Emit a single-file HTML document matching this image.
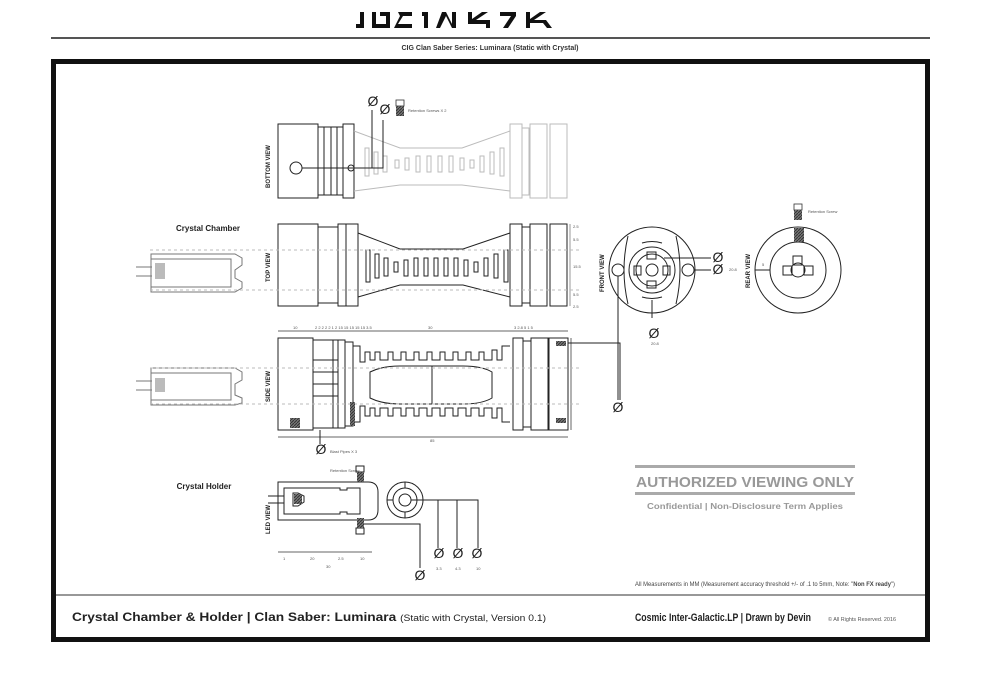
<!DOCTYPE html>
<html><head><meta charset="utf-8"><style>
html,body{margin:0;padding:0;background:#fff;width:986px;height:696px;overflow:hidden}
svg{display:block}
text{font-family:"Liberation Sans",sans-serif}
</style></head><body>
<svg width="986" height="696" viewBox="0 0 986 696" xmlns="http://www.w3.org/2000/svg">
<defs>
<pattern id="h" width="3" height="3" patternUnits="userSpaceOnUse"><rect width="3" height="3" fill="#777"/><path d="M0 3L3 0" stroke="#333" stroke-width="1"/></pattern>
</defs>
<g fill="#111">
<path d="M360 12h4v16h-8v-4h4z"/>
<path d="M372 12h4v12h10v-12h4v16h-18z M380 12h6v4h-6z"/>
<path d="M398 12h14v4h-9l-5 8h14v4h-18l6-12z" />
<path d="M422 12h6v16h-4v-12h-2z"/>
<path d="M436 28l6-16h4l6 12v-12h4v16h-4l-6-12-6 12z"/>
<path d="M468 12h4v7l10-7h6l-12 8h14v8h-4v-4h-18z"/>
<path d="M500 12h16v4l-8 12h-5l8-12h-11z"/>
<path d="M526 12h4v7l10-7h6l-12 8h12l6 8h-5l-4-5h-13v5h-4z"/>
</g>
<rect x="51" y="37" width="879" height="2" fill="#555"/>
<text x="490" y="50" font-size="7" text-anchor="middle" font-weight="bold" fill="#333">CIG Clan Saber Series: Luminara (Static with Crystal)</text>
<rect x="53.5" y="61.5" width="874" height="578" fill="none" stroke="#111" stroke-width="5"/>
<line x1="56" y1="595" x2="925" y2="595" stroke="#777" stroke-width="1.5"/>

<g fill="none" stroke="#222" stroke-width="1">
<rect x="278" y="124" width="40" height="74"/>
<rect x="318" y="127" width="6" height="68"/><rect x="324" y="127" width="7" height="68"/><rect x="331" y="127" width="6" height="68"/><rect x="337" y="127" width="6" height="68"/><rect x="343" y="124" width="11" height="74"/>
<circle cx="296" cy="168" r="6"/><circle cx="351" cy="168" r="3"/>
<g stroke="#bbb"><path d="M354 131L400 148H462L510 131M354 191L400 185H462L510 191"/>
<rect x="510" y="124" width="12" height="74"/><rect x="522" y="128" width="7" height="67"/><rect x="530" y="124" width="17" height="74"/><rect x="550" y="124" width="17" height="74"/>
<rect x="365" y="148" width="4" height="28"/><rect x="374" y="152" width="4" height="22"/><rect x="383" y="156" width="4" height="16"/><rect x="395" y="160" width="4" height="8"/><rect x="405" y="158" width="4" height="12"/><rect x="416" y="156" width="4" height="16"/><rect x="427" y="156" width="4" height="16"/><rect x="438" y="156" width="4" height="16"/><rect x="449" y="156" width="4" height="16"/><rect x="460" y="158" width="4" height="12"/><rect x="470" y="160" width="4" height="8"/><rect x="480" y="156" width="4" height="16"/><rect x="490" y="152" width="4" height="22"/><rect x="500" y="148" width="4" height="28"/></g>
<path d="M302 168H372V110M357 168H383V120"/>
<rect x="278" y="224" width="40" height="82"/>
<rect x="318" y="227" width="20" height="76"/><rect x="338" y="224" width="8" height="82"/><rect x="346" y="224" width="12" height="82"/>
<path d="M358 233L400 249H463L510 233M358 297L400 285H463L510 297"/>
<rect x="510" y="224" width="12" height="82"/><rect x="522" y="227" width="8" height="76"/><rect x="530" y="224" width="17" height="82"/><rect x="550" y="224" width="17" height="82"/>
<rect x="366" y="250" width="4" height="32"/><rect x="375" y="254" width="4" height="24"/><rect x="384" y="258" width="4" height="18"/><rect x="394" y="262" width="4" height="10"/><rect x="404" y="260" width="4" height="16"/><rect x="414" y="258" width="4" height="18"/><rect x="424" y="258" width="4" height="18"/><rect x="434" y="258" width="4" height="18"/><rect x="444" y="258" width="4" height="18"/><rect x="454" y="258" width="4" height="18"/><rect x="464" y="260" width="4" height="16"/><rect x="474" y="262" width="4" height="10"/><rect x="484" y="258" width="4" height="18"/><rect x="494" y="254" width="4" height="24"/><rect x="504" y="250" width="4" height="32"/>
<path d="M570 224V306" stroke="#999"/>
<g stroke="#777"><path d="M151 254H235L242 258V265L235 270V278L242 282V288L235 292H151ZM151 259H231V287H151"/><path d="M136 267H152M136 276H152"/></g>
<rect x="278" y="338" width="35" height="92"/>
<rect x="313" y="340" width="20" height="88"/><rect x="333" y="340" width="5" height="88"/><rect x="338" y="340" width="7" height="88"/><rect x="345" y="342" width="8" height="84"/>
<path d="M313 346V426M313 360H338M313 372H338M313 384H338M313 396H338"/>
<path d="M353 346H360V362H365V352H370V360H375V352H380V360H388V352H393V360H401V352H406V360H414V352H419V360H427V352H432V360H440V352H445V360H453V352H458V360H466V352H471V360H479V352H484V360H492V350H497V360H502V346H510"/>
<path d="M353 422H360V406H365V416H370V408H375V416H380V408H388V416H393V408H401V416H406V408H414V416H419V408H427V416H432V408H440V416H445V408H453V416H458V408H466V416H471V408H479V416H484V408H492V418H497V408H502V422H510"/>
<path d="M370 372Q382 366 400 366H463Q482 366 492 372V398Q482 404 463 404H400Q382 404 370 398Z"/>
<path d="M432 366V404"/>
<rect x="513" y="338" width="10" height="92"/><rect x="523" y="341" width="8" height="86"/><rect x="531" y="338" width="17" height="92"/><rect x="549" y="338" width="19" height="92"/>
<path d="M278 331H568M278 437H568M571 338V430" stroke="#666"/>
<path d="M320 430V444"/>
<g stroke="#777"><path d="M151 368H235L242 372V380L235 384V392L235 395L242 398V403L235 405H151ZM151 373H231V400H151"/><path d="M136 381H152M136 390H152"/></g>
<g stroke="#bbb" stroke-dasharray="3 3"><path d="M150 250H580M150 290H580M150 368H580M150 404H580"/></g>
<path d="M568 343H620V400"/>
<circle cx="652" cy="270" r="43"/>
<path d="M628 236Q620 270 628 304M676 236Q684 270 676 304"/>
<circle cx="652" cy="270" r="23"/><circle cx="652" cy="270" r="16"/><circle cx="652" cy="270" r="6"/>
<rect x="647" y="252" width="9" height="7"/><rect x="634" y="266" width="7" height="9"/><rect x="663" y="266" width="7" height="9"/><rect x="647" y="281" width="9" height="7"/>
<path d="M642 243Q652 240 662 243M642 297Q652 300 662 297"/>
<circle cx="618" cy="270" r="6"/><circle cx="688" cy="270" r="6"/>
<path d="M664 258H711M694 270H711M652 300V318M618 276V400"/>
<circle cx="798" cy="270" r="43"/><circle cx="798" cy="270" r="28"/><circle cx="798" cy="270" r="7"/>
<rect x="793" y="256" width="9" height="9"/><rect x="783" y="266" width="9" height="9"/><rect x="804" y="266" width="9" height="9"/>
<path d="M755 270H770"/>
<path d="M278 482H368Q378 482 378 492V510Q378 520 368 520H278Z"/>
<path d="M284 488H340V490H347V488H360V514H347V512H340V514H284Z"/>
<path d="M293 493H298L304 496V502L298 506H293Z"/>
<path d="M268 496H284M268 503H284"/>
<circle cx="405" cy="500" r="18"/><circle cx="405" cy="500" r="12"/><circle cx="405" cy="500" r="6"/>
<path d="M405 482V488M405 512V518M387 500H393"/>
<path d="M411 500H478V548M438 500V548M457 500V548M364 524H420V568"/>
<rect x="356" y="466" width="8" height="6"/><rect x="356" y="528" width="8" height="6"/>
<path d="M278 552H372" stroke="#666"/>
</g>
<rect x="396" y="100" width="8" height="6" fill="#fff" stroke="#333" stroke-width="0.8"/><rect x="396" y="106" width="8" height="10" fill="url(#h)"/>
<rect x="794" y="204" width="8" height="6" fill="#fff" stroke="#333" stroke-width="0.8"/><rect x="794" y="210" width="8" height="10" fill="url(#h)"/>
<rect x="794" y="228" width="10" height="14" fill="url(#h)"/>
<rect x="290" y="418" width="10" height="10" fill="url(#h)"/>
<rect x="350" y="402" width="5" height="24" fill="url(#h)"/>
<rect x="556" y="341" width="10" height="5" fill="url(#h)"/><rect x="556" y="418" width="10" height="5" fill="url(#h)"/>
<rect x="357" y="472" width="7" height="10" fill="url(#h)"/><rect x="357" y="518" width="7" height="10" fill="url(#h)"/>
<rect x="294" y="494" width="8" height="10" fill="url(#h)"/>
<rect x="155" y="263" width="10" height="16" fill="#bbb"/><rect x="155" y="378" width="10" height="14" fill="#bbb"/>
<g font-size="14" fill="#222" text-anchor="middle">
<text x="373" y="106">Ø</text><text x="385" y="114">Ø</text>
<text x="718" y="262">Ø</text><text x="718" y="274">Ø</text>
<text x="654" y="338">Ø</text><text x="618" y="412">Ø</text>
<text x="321" y="454">Ø</text>
<text x="420" y="580">Ø</text><text x="439" y="558">Ø</text><text x="458" y="558">Ø</text><text x="477" y="558">Ø</text>
</g>
<g font-size="4" fill="#555">
<text x="408" y="112">Retention Screws X 2</text>
<text x="808" y="213">Retention Screw</text>
<text x="330" y="453">Blast Pipes X 3</text>
<text x="330" y="472">Retention Screw</text>
<text x="729" y="271">20.8</text><text x="651" y="345">20.8</text>
<text x="430" y="442">85</text><text x="428" y="329">30</text>
<text x="436" y="570">3.3</text><text x="455" y="570">4.3</text><text x="476" y="570">10</text>
<text x="283" y="560">1</text><text x="310" y="560">20</text><text x="338" y="560">2.5</text><text x="360" y="560">10</text><text x="326" y="568">30</text>
<text x="573" y="228">2.5</text><text x="573" y="241">5.5</text><text x="573" y="268">15.5</text><text x="573" y="296">5.5</text><text x="573" y="308">2.5</text>
<text x="293" y="329">10</text><text x="315" y="329">2 2 2 2 2 1 2 15 15 15 15 15 3.5</text><text x="514" y="329">3 2.8 5 1 5</text>
<text x="762" y="266">5</text>
</g>
<g font-size="6" font-weight="bold" fill="#222">
<text transform="translate(270,188) rotate(-90)">BOTTOM VIEW</text>
<text transform="translate(270,282) rotate(-90)">TOP VIEW</text>
<text transform="translate(270,402) rotate(-90)">SIDE VIEW</text>
<text transform="translate(270,534) rotate(-90)">LED VIEW</text>
<text transform="translate(604,292) rotate(-90)">FRONT VIEW</text>
<text transform="translate(750,288) rotate(-90)">REAR VIEW</text>
</g>
<text x="208" y="231" font-size="8" font-weight="bold" text-anchor="middle" fill="#222">Crystal Chamber</text>
<text x="204" y="489" font-size="8" font-weight="bold" text-anchor="middle" fill="#222">Crystal Holder</text>
<rect x="635" y="465" width="220" height="3" fill="#aaa"/>
<rect x="635" y="492" width="220" height="3" fill="#aaa"/>
<text x="636" y="487" font-size="15" font-weight="bold" fill="#999" textLength="218" lengthAdjust="spacingAndGlyphs">AUTHORIZED VIEWING ONLY</text>
<text x="647" y="509" font-size="8" font-weight="bold" fill="#999" textLength="196" lengthAdjust="spacingAndGlyphs">Confidential  |  Non-Disclosure Term Applies</text>
<text x="635" y="586" font-size="6" fill="#444" textLength="260" lengthAdjust="spacingAndGlyphs">All Measurements in MM (Measurement accuracy threshold +/- of .1 to 5mm, Note: "<tspan font-weight="bold">Non FX ready</tspan>")</text>
<text x="72" y="621" font-size="12" font-weight="bold" fill="#222" textLength="474" lengthAdjust="spacingAndGlyphs">Crystal Chamber &amp; Holder  |  Clan Saber: Luminara <tspan font-size="9" font-weight="normal">(Static with Crystal, Version 0.1)</tspan></text>
<text x="635" y="621" font-size="11" font-weight="bold" fill="#222" textLength="176" lengthAdjust="spacingAndGlyphs">Cosmic Inter-Galactic.LP | Drawn by Devin</text>
<text x="828" y="621" font-size="5" fill="#555" textLength="68" lengthAdjust="spacingAndGlyphs">© All Rights Reserved. 2016</text>
</svg>
</body></html>
